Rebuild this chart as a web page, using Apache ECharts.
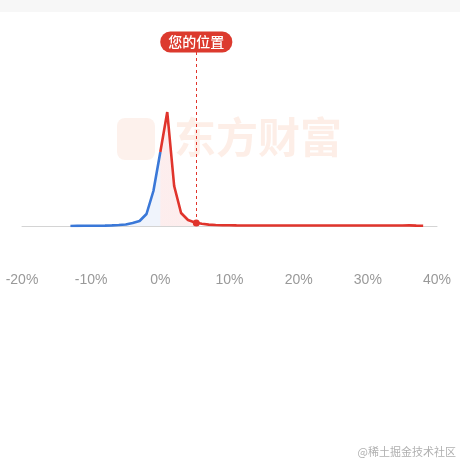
<!DOCTYPE html>
<html>
<head>
<meta charset="utf-8">
<script src="https://cdn.jsdelivr.net/npm/echarts@6/dist/echarts.min.js"></script>
<style>
html,body{margin:0;padding:0;background:#fff;}
#chart{width:460px;height:460px;}
</style>
</head>
<body>
<div id="chart"></div>
<script>
// Return buckets (%), and share of investors in each bucket
const returns = [-13,-12,-11,-10,-9,-8,-7,-6,-5,-4,-3,-2,-1,0,1,2,3,4,5,6,7,8,9,10,11,12,13,14,15,16,17,18,19,20,21,22,23,24,25,26,27,28,29,30,31,32,33,34,35,36,37,38];
const density = [0,0.01,0.02,0.03,0.03,0.04,0.06,0.1,0.15,0.3,0.5,1.2,3.5,7.4,11.4,4.0,1.3,0.6,0.35,0.22,0.14,0.1,0.08,0.08,0.06,0.05,0.05,0.05,0.05,0.05,0.05,0.05,0.05,0.05,0.05,0.05,0.05,0.05,0.05,0.05,0.05,0.05,0.05,0.05,0.05,0.05,0.05,0.05,0.05,0.06,0.04,0.03];
const xTicks = [-20,-10,0,10,20,30,40];
const splitReturn = 0;
const userReturn = 5.2;
const userDensity = 0.3;
const userLabel = '您的位置';

const blueData = [], redData = [];
returns.forEach((r, i) => {
  if (r <= splitReturn) blueData.push([r, density[i]]);
  if (r >= splitReturn) redData.push([r, density[i]]);
});
const redStart = redData[0][0], redEnd = redData[redData.length - 1][0];
const stop = (userReturn - redStart) / (redEnd - redStart);
const yMax = 18.4;

const chart = echarts.init(document.getElementById('chart'));
chart.setOption({
  animation: false,
  backgroundColor: '#fff',
  grid: {left: 22, right: 23, top: 42, bottom: 234},
  xAxis: {
    type: 'value', min: xTicks[0], max: xTicks[xTicks.length - 1], interval: 10,
    axisLine: {show: true, lineStyle: {color: '#d4d4d4', width: 1}},
    axisTick: {show: false},
    splitLine: {show: false},
    axisLabel: {formatter: '{value}%', color: '#999999', fontSize: 14, margin: 47, fontFamily: '"Liberation Sans", Arial, sans-serif'}
  },
  yAxis: {type: 'value', min: 0, max: yMax, show: false, splitLine: {show: false}},
  graphic: [
    {type: 'rect', left: 0, top: 0, shape: {width: 460, height: 12}, style: {fill: '#f7f7f7'}, z: 0},
    {type: 'rect', left: 117, top: 118, shape: {width: 38, height: 42, r: 8}, style: {fill: 'rgba(240,120,70,0.10)'}, z: 0},
    {type: 'text', left: 174, top: 116, style: {text: '东方财富', font: 'bold 42px "Noto Sans CJK SC"', fill: 'rgba(240,120,70,0.13)'}, z: 0},
    {type: 'text', right: 4, bottom: 3, style: {text: '@稀土掘金技术社区', font: '11px "Noto Sans CJK SC"', fill: '#b0b0b0'}, z: 0}
  ],
  series: [
    {
      type: 'line', data: blueData, symbol: 'none', smooth: false, z: 3,
      lineStyle: {color: '#3a78d8', width: 2.6},
      areaStyle: {color: 'rgba(58,120,216,0.11)'}
    },
    {
      type: 'line', data: redData, symbol: 'none', smooth: false, z: 3,
      lineStyle: {color: '#e0342c', width: 2.6},
      areaStyle: {color: {type: 'linear', x: 0, y: 0, x2: 1, y2: 0, colorStops: [
        {offset: 0, color: 'rgba(230,60,60,0.13)'},
        {offset: stop, color: 'rgba(230,60,60,0.13)'},
        {offset: stop, color: 'rgba(230,60,60,0)'},
        {offset: 1, color: 'rgba(230,60,60,0)'}
      ]}},
      markLine: {
        silent: true, symbol: 'none',
        lineStyle: {color: '#e0342c', type: [3, 3], width: 1},
        label: {show: false},
        data: [[{coord: [userReturn, userDensity]}, {coord: [userReturn, yMax]}]]
      }
    },
    {
      type: 'scatter', data: [[userReturn, userDensity]], symbolSize: 7, z: 5,
      itemStyle: {color: '#e0342c', opacity: 1}
    },
    {
      type: 'scatter', data: [[userReturn, yMax]], symbolSize: 0, z: 10, clip: false,
      itemStyle: {opacity: 1},
      label: {
        show: true, position: 'inside', formatter: userLabel,
        color: '#fff', fontSize: 14, fontWeight: 500, lineHeight: 15, fontFamily: '"Noto Sans CJK SC"',
        backgroundColor: '#dc3a2e', borderRadius: 10, padding: [3, 8, 3, 8], height: 15
      }
    }
  ]
});
</script>
</body>
</html>
